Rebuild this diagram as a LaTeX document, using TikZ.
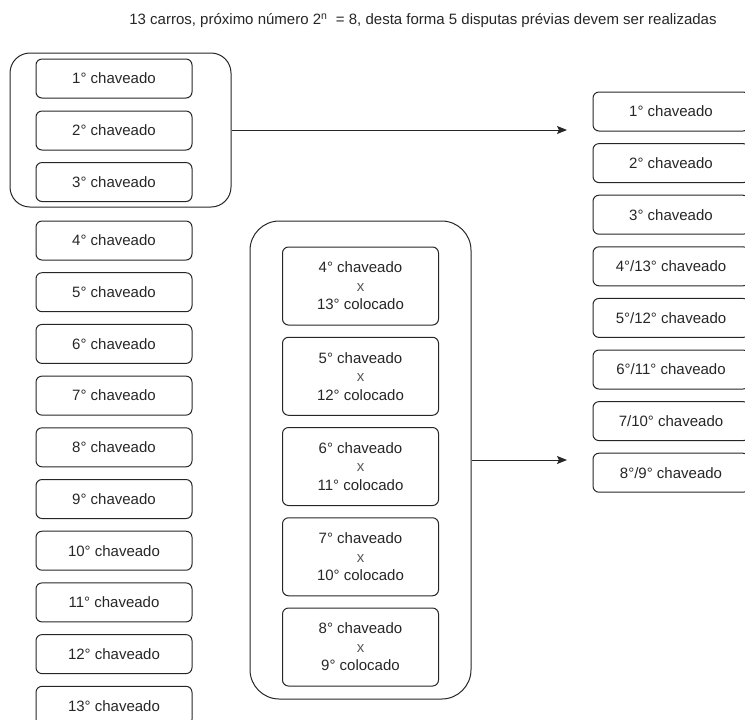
\documentclass[tikz,border=0pt]{standalone}
\usepackage{fontspec}
\setmainfont{Liberation Sans}
\usetikzlibrary{arrows.meta}
\begin{document}
\begin{tikzpicture}[x=0.75pt,y=-0.75pt,
  box/.style={draw=black!85, line width=0.75pt, rounded corners=4.5pt,
    minimum width=117pt, minimum height=29.25pt, inner sep=0pt,
    font=\fontsize{11.25}{13}\selectfont, text=black!85},
  pairbox/.style={box, minimum height=58.5pt, align=center,
    font=\fontsize{11.25}{13.9}\selectfont},
  group/.style={draw=black!85, line width=0.75pt, inner sep=0pt},
  conn/.style={draw=black!85, line width=0.75pt, -{Stealth[length=7.5pt,width=6pt,inset=1.5pt]}},
  title/.style={font=\fontsize{11.25}{13}\selectfont, text=black!85}
]
\useasboundingbox (0,0) rectangle (745,719);
\clip (0,0) rectangle (745,719);

\node[title] (t) at (423,21) {13 carros, próximo número 2\textsuperscript{n}\ \ = 8, desta forma 5 disputas prévias devem ser realizadas};

% left group
\node[group, rounded corners=15pt, minimum width=165.75pt, minimum height=115.5pt] (g1) at (120.5,130) {};
\foreach \i/\y in {1/78.5, 2/130.5, 3/182, 4/240.5, 5/292.2, 6/343.9, 7/395.6, 8/447.3, 9/499, 10/550.7, 11/602.4, 12/654.1, 13/705.8}
  \node[box] (l\i) at (114,\y) {\i° chaveado};

% middle group
\node[group, rounded corners=22pt, minimum width=165.75pt, minimum height=358.5pt] (g2) at (360.5,460) {};
\node[pairbox] (m1) at (360.5,286) {4° chaveado\\{\color{black!65}x}\\13° colocado};
\node[pairbox] (m2) at (360.5,376.25) {5° chaveado\\{\color{black!65}x}\\12° colocado};
\node[pairbox] (m3) at (360.5,466.5) {6° chaveado\\{\color{black!65}x}\\11° colocado};
\node[pairbox] (m4) at (360.5,556.75) {7° chaveado\\{\color{black!65}x}\\10° colocado};
\node[pairbox] (m5) at (360.5,647) {8° chaveado\\{\color{black!65}x}\\9° colocado};

% right column
\node[box] (r1) at (671,111.5) {1° chaveado};
\node[box] (r2) at (671,163.1) {2° chaveado};
\node[box] (r3) at (671,214.7) {3° chaveado};
\node[box] (r4) at (671,266.3) {4°/13° chaveado};
\node[box] (r5) at (671,317.9) {5°/12° chaveado};
\node[box] (r6) at (671,369.5) {6°/11° chaveado};
\node[box] (r7) at (671,421.1) {7/10° chaveado};
\node[box] (r8) at (671,472.7) {8°/9° chaveado};

% connectors
\coordinate (e1) at (567,130);
\coordinate (e2) at (567,460);
\draw[conn] (g1.east) -- (e1);
\draw[conn] (g2.east) -- (e2);
\end{tikzpicture}
\end{document}
